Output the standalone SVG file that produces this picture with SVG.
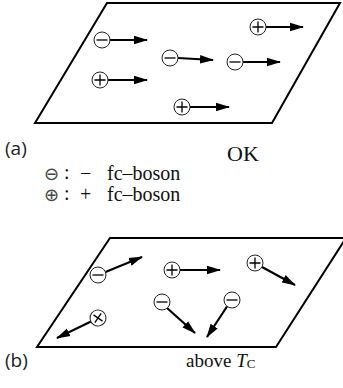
<svg xmlns="http://www.w3.org/2000/svg" width="343" height="388" viewBox="0 0 343 388">
<style>
.plane{fill:none;stroke:#000;stroke-width:2;stroke-linejoin:miter}
.p{fill:#fff;stroke:#222;stroke-width:1}
.s{stroke:#000;stroke-width:1.3;fill:none}
.arr{stroke:#000;stroke-width:2.2;fill:none;marker-end:url(#ah)}
.lbl{font-family:"Open Sans","DejaVu Sans",sans-serif;font-size:19px;fill:#222}
.ser{font-family:"Liberation Serif","Times New Roman",serif;font-size:20px;fill:#111}
.sym{font-family:"DejaVu Sans",sans-serif;font-size:18px;fill:#444}
</style>
<defs>
<marker id="ah" markerUnits="userSpaceOnUse" markerWidth="14" markerHeight="10" refX="13" refY="5" orient="auto">
<path d="M0,0.8 L14,5 L0,9.2 Z" fill="#000"/>
</marker>
<g id="minus"><circle class="p" r="8"/><path class="s" d="M-5.5,0H5.5"/></g>
<g id="plus"><circle class="p" r="8"/><path class="s" d="M-5.5,0H5.5M0,-5.5V5.5"/></g>
</defs>

<g id="planeA"><polygon class="plane" points="107,3 340,3 272,123 35,123"/></g>
<g id="planeB"><polygon class="plane" points="110,238 346,238 276,347 37,347"/></g>

<g id="connectors">
<line class="arr" x1="110" y1="40" x2="147" y2="40"/>
<line class="arr" x1="178" y1="58" x2="213" y2="60"/>
<line class="arr" x1="243" y1="62" x2="280" y2="62"/>
<line class="arr" x1="266" y1="27" x2="303" y2="27"/>
<line class="arr" x1="108" y1="80" x2="147" y2="80"/>
<line class="arr" x1="190" y1="107" x2="229" y2="107"/>

<line class="arr" x1="105.5" y1="272" x2="142" y2="257"/>
<line class="arr" x1="180" y1="270" x2="220" y2="270"/>
<line class="arr" x1="262" y1="267" x2="295" y2="285"/>
<line class="arr" x1="167" y1="308" x2="195" y2="333"/>
<line class="arr" x1="227" y1="306.5" x2="207" y2="337"/>
<line class="arr" x1="91" y1="321.5" x2="57" y2="338"/>
</g>

<g id="a1"><use href="#minus" x="102" y="40"/></g>
<g id="a2"><use href="#minus" x="170" y="58"/></g>
<g id="a3"><use href="#minus" x="235" y="62"/></g>
<g id="a4"><use href="#plus" x="258" y="27"/></g>
<g id="a5"><use href="#plus" x="100" y="80"/></g>
<g id="a6"><use href="#plus" x="182" y="107"/></g>

<g id="b1"><use href="#minus" x="98" y="275"/></g>
<g id="b2"><use href="#plus" x="172" y="270"/></g>
<g id="b3"><use href="#plus" x="255" y="263"/></g>
<g id="b4"><use href="#minus" x="162" y="302"/></g>
<g id="b5"><use href="#minus" x="232" y="300"/></g>
<g id="b6"><use href="#plus" transform="translate(98,318) rotate(35)"/></g>

<g id="labels">
<text class="lbl" x="5" y="155">(a)</text>
<text class="ser" x="227" y="161" style="font-size:22px">OK</text>
<text class="ser" y="180"><tspan class="sym" x="44">⊖</tspan><tspan x="64" dy="-1">:</tspan><tspan x="80" dy="1">−</tspan><tspan x="107">fc–boson</tspan></text>
<text class="ser" y="201"><tspan class="sym" x="44">⊕</tspan><tspan x="64" dy="-1">:</tspan><tspan x="80" dy="1">+</tspan><tspan x="107">fc–boson</tspan></text>
<text class="lbl" x="5" y="367">(b)</text>
<text class="ser" x="186" y="367" style="font-size:19px">above <tspan font-style="italic">T</tspan><tspan font-size="13" dy="1">C</tspan></text>
</g>
</svg>
